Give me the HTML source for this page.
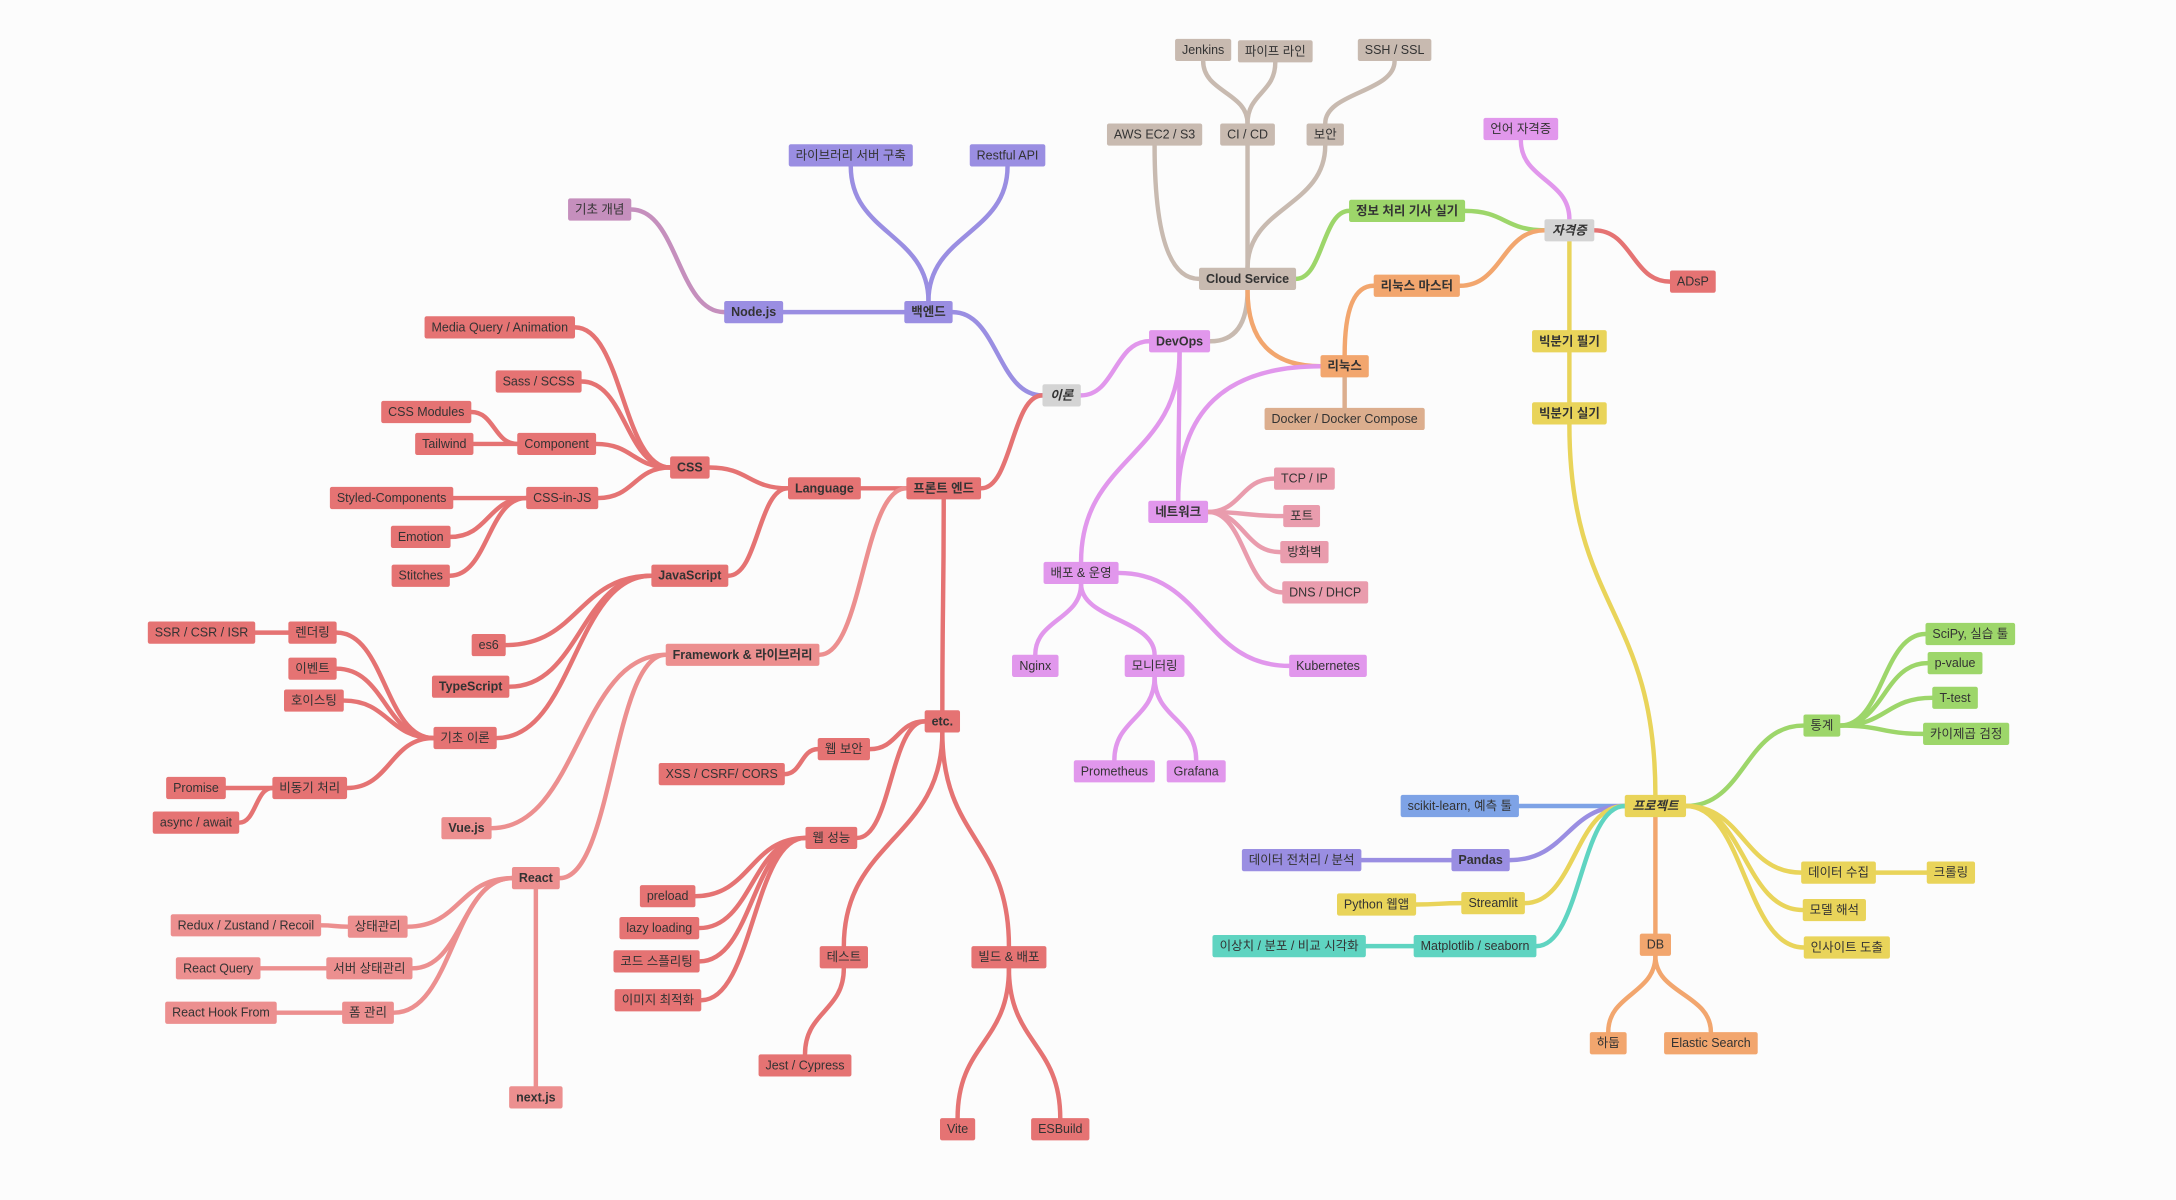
<!DOCTYPE html>
<html><head><meta charset="utf-8">
<style>
html,body{margin:0;padding:0;background:#fcfcfc;}
svg{display:block;}
text{font-family:"Liberation Sans","Noto Sans CJK KR",sans-serif;font-size:9px;fill:#333;text-anchor:middle;dominant-baseline:central;}
text.b{font-weight:bold;}
text.i{font-style:italic;}
</style></head><body>
<svg id="s" width="2176" height="1200" viewBox="0 0 1568 865" xmlns="http://www.w3.org/2000/svg">
<g id="edges" fill="none" stroke-linecap="round"></g>
<g id="rects"></g>
<g id="labels">
<text id="ir" class="k b i" x="765" y="285">이론</text>
<text id="be" class="p b" x="669" y="225">백엔드</text>
<text id="nj" class="p b" x="543" y="225">Node.js</text>
<text id="lib" class="p" x="613" y="112">라이브러리 서버 구축</text>
<text id="api" class="p" x="726" y="112">Restful API</text>
<text id="gk" class="m" x="432" y="151">기초 개념</text>
<text id="fe" class="r b" x="680" y="352">프론트 엔드</text>
<text id="lang" class="r b" x="594" y="352">Language</text>
<text id="css" class="r b" x="497" y="337">CSS</text>
<text id="mq" class="r" x="360" y="236">Media Query / Animation</text>
<text id="sass" class="r" x="388" y="275">Sass / SCSS</text>
<text id="cssm" class="r" x="307" y="297">CSS Modules</text>
<text id="tw" class="r" x="320" y="320">Tailwind</text>
<text id="comp" class="r" x="401" y="320">Component</text>
<text id="cij" class="r" x="405" y="359">CSS-in-JS</text>
<text id="sc" class="r" x="282" y="359">Styled-Components</text>
<text id="em" class="r" x="303" y="387">Emotion</text>
<text id="st" class="r" x="303" y="415">Stitches</text>
<text id="js" class="r b" x="497" y="415">JavaScript</text>
<text id="es6" class="r" x="352" y="465">es6</text>
<text id="ts" class="r b" x="339" y="495">TypeScript</text>
<text id="gi" class="r" x="335" y="532">기초 이론</text>
<text id="rd" class="r" x="225" y="456">렌더링</text>
<text id="ssr" class="r" x="145" y="456">SSR / CSR / ISR</text>
<text id="ev" class="r" x="225" y="482">이벤트</text>
<text id="ho" class="r" x="226" y="505">호이스팅</text>
<text id="as" class="r" x="223" y="568">비동기 처리</text>
<text id="pr" class="r" x="141" y="568">Promise</text>
<text id="aw" class="r" x="141" y="593">async / await</text>
<text id="fw" class="f b" x="535" y="472">Framework &amp; 라이브러리</text>
<text id="vue" class="f b" x="336" y="597">Vue.js</text>
<text id="react" class="f b" x="386" y="633">React</text>
<text id="sm" class="f" x="272" y="668">상태관리</text>
<text id="rx" class="f" x="177" y="667">Redux / Zustand / Recoil</text>
<text id="ssm" class="f" x="266" y="698">서버 상태관리</text>
<text id="rq" class="f" x="157" y="698">React Query</text>
<text id="fm" class="f" x="265" y="730">폼 관리</text>
<text id="rhf" class="f" x="159" y="730">React Hook From</text>
<text id="next" class="f b" x="386" y="791">next.js</text>
<text id="etc" class="r b" x="679" y="520">etc.</text>
<text id="ws" class="r" x="608" y="540">웹 보안</text>
<text id="xss" class="r" x="520" y="558">XSS / CSRF/ CORS</text>
<text id="wp" class="r" x="599" y="604">웹 성능</text>
<text id="pre" class="r" x="481" y="646">preload</text>
<text id="lazy" class="r" x="475" y="669">lazy loading</text>
<text id="code" class="r" x="473" y="693">코드 스플리팅</text>
<text id="img" class="r" x="474" y="721">이미지 최적화</text>
<text id="test" class="r" x="608" y="690">테스트</text>
<text id="jest" class="r" x="580" y="768">Jest / Cypress</text>
<text id="build" class="r" x="727" y="690">빌드 &amp; 배포</text>
<text id="vite" class="r" x="690" y="814">Vite</text>
<text id="esb" class="r" x="764" y="814">ESBuild</text>
<text id="dev" class="v b" x="850" y="246">DevOps</text>
<text id="cs" class="t b" x="899" y="201">Cloud Service</text>
<text id="aws" class="t" x="832" y="97">AWS EC2 / S3</text>
<text id="cicd" class="t" x="899" y="97">CI / CD</text>
<text id="jen" class="t" x="867" y="36">Jenkins</text>
<text id="pipe" class="t" x="919" y="37">파이프 라인</text>
<text id="sec" class="t" x="955" y="97">보안</text>
<text id="ssh" class="t" x="1005" y="36">SSH / SSL</text>
<text id="info" class="g b" x="1014" y="152">정보 처리 기사 실기</text>
<text id="cert" class="k b i" x="1131" y="166">자격증</text>
<text id="lcert" class="v" x="1096" y="93">언어 자격증</text>
<text id="adsp" class="r" x="1220" y="203">ADsP</text>
<text id="lm" class="o b" x="1021" y="206">리눅스 마스터</text>
<text id="linux" class="o b" x="969" y="264">리눅스</text>
<text id="dock" class="d" x="969" y="302">Docker / Docker Compose</text>
<text id="bf1" class="y b" x="1131" y="246">빅분기 필기</text>
<text id="bf2" class="y b" x="1131" y="298">빅분기 실기</text>
<text id="net" class="v b" x="849" y="369">네트워크</text>
<text id="tcp" class="n" x="940" y="345">TCP / IP</text>
<text id="port" class="n" x="938" y="372">포트</text>
<text id="fwl" class="n" x="940" y="398">방화벽</text>
<text id="dns" class="n" x="955" y="427">DNS / DHCP</text>
<text id="dep" class="v" x="779" y="413">배포 &amp; 운영</text>
<text id="ngx" class="v" x="746" y="480">Nginx</text>
<text id="mon" class="v" x="832" y="480">모니터링</text>
<text id="k8s" class="v" x="957" y="480">Kubernetes</text>
<text id="prom" class="v" x="803" y="556">Prometheus</text>
<text id="graf" class="v" x="862" y="556">Grafana</text>
<text id="proj" class="y b i" x="1193" y="581">프로젝트</text>
<text id="stat" class="g" x="1313" y="523">통계</text>
<text id="scipy" class="g" x="1420" y="457">SciPy, 실습 툴</text>
<text id="pv" class="g" x="1409" y="478">p-value</text>
<text id="tt" class="g" x="1409" y="503">T-test</text>
<text id="chi" class="g" x="1417" y="529">카이제곱 검정</text>
<text id="sk" class="bl" x="1052" y="581">scikit-learn, 예측 툴</text>
<text id="pd" class="p b" x="1067" y="620">Pandas</text>
<text id="pdp" class="p" x="938" y="620">데이터 전처리 / 분석</text>
<text id="sl" class="y" x="1076" y="651">Streamlit</text>
<text id="py" class="y" x="992" y="652">Python 웹앱</text>
<text id="mpl" class="te" x="1063" y="682">Matplotlib / seaborn</text>
<text id="out" class="te" x="929" y="682">이상치 / 분포 / 비교 시각화</text>
<text id="dc" class="y" x="1325" y="629">데이터 수집</text>
<text id="crawl" class="y" x="1406" y="629">크롤링</text>
<text id="mi" class="y" x="1322" y="656">모델 해석</text>
<text id="ins" class="y" x="1331" y="683">인사이트 도출</text>
<text id="db" class="o" x="1193" y="681">DB</text>
<text id="hd" class="o" x="1159" y="752">하둡</text>
<text id="es" class="o" x="1233" y="752">Elastic Search</text>
</g>
</svg>
<script>
(function(){
var C={k:"#d4d4d4",p:"#9a8ee2",m:"#c58fbd",r:"#e57373",f:"#ec8f8f",t:"#c8bab0",g:"#9dd66a",o:"#f2a66e",d:"#dcae8e",y:"#e9d45a",v:"#e197ec",n:"#e99cad",bl:"#7ea3e6",te:"#5fd4c1"};
var NS="http://www.w3.org/2000/svg";
var N={};
var rects=document.getElementById("rects");
document.querySelectorAll("#labels text").forEach(function(t){
 var cx=+t.getAttribute("x"),cy=+t.getAttribute("y");
 var w=t.getBBox().width+10,h=16;
 var col=C[t.getAttribute("class").split(" ")[0]];
 var r=document.createElementNS(NS,"rect");
 r.setAttribute("x",cx-w/2);r.setAttribute("y",cy-h/2);r.setAttribute("width",w);r.setAttribute("height",h);
 r.setAttribute("rx",1.5);r.setAttribute("fill",col);
 rects.appendChild(r);
 N[t.id]={cx:cx,cy:cy,w:w,h:h,col:col};
});
var E=[
["ir","be","h"],["be","nj","h"],["be","lib","v"],["be","api","v"],["nj","gk","h"],["ir","fe","h"],
["fe","lang","h"],["lang","css","h"],["css","mq","h"],["css","sass","h"],["css","comp","h"],["comp","cssm","h"],["comp","tw","h"],
["css","cij","h"],["cij","sc","h"],["cij","em","h"],["cij","st","h"],["lang","js","h"],["js","es6","h"],["js","ts","h"],["js","gi","h"],
["gi","rd","h"],["rd","ssr","h"],["gi","ev","h"],["gi","ho","h"],["gi","as","h"],["as","pr","h"],["as","aw","h"],
["fe","fw","h"],["fw","vue","h"],["fw","react","h"],["react","sm","h"],["sm","rx","h"],["react","ssm","h"],["ssm","rq","h"],
["react","fm","h"],["fm","rhf","h"],["react","next","v"],["fe","etc","v"],["etc","ws","h"],["ws","xss","h"],["etc","wp","h"],
["wp","pre","h"],["wp","lazy","h"],["wp","code","h"],["wp","img","h"],["etc","test","v"],["test","jest","v"],["etc","build","v"],
["build","vite","v"],["build","esb","v"],
["ir","dev","h"],["dev","cs","q"],["cs","aws","q"],["cs","cicd","v"],["cicd","jen","v"],["cicd","pipe","v"],["cs","sec","v"],["sec","ssh","v"],
["cs","info","h"],["cert","info","h"],["cert","lm","h"],["linux","lm","r"],["cs","linux","r"],["linux","net","q"],["linux","dock","v"],
["cert","lcert","v"],["cert","adsp","h"],["cert","bf1","v"],["bf1","bf2","v"],["bf2","proj","v"],
["dev","net","v"],["dev","dep","v"],["net","tcp","h"],["net","port","h"],["net","fwl","h"],["net","dns","h"],
["dep","ngx","v"],["dep","mon","v"],["dep","k8s","h"],["mon","prom","v"],["mon","graf","v"],
["proj","stat","h"],["stat","scipy","h"],["stat","pv","h"],["stat","tt","h"],["stat","chi","h"],["proj","sk","h"],["proj","pd","h"],
["pd","pdp","h"],["proj","sl","h"],["sl","py","h"],["proj","mpl","h"],["mpl","out","h"],["proj","dc","h"],["dc","crawl","h"],
["proj","mi","h"],["proj","ins","h"],["proj","db","v"],["db","hd","v"],["db","es","v"]
];
var eg=document.getElementById("edges");
E.forEach(function(e){
 var a=N[e[0]],b=N[e[1]],m=e[2],d;
 var sx=b.cx>a.cx?1:-1, sy=b.cy>a.cy?1:-1;
 if(m=="h"){
  var x1=a.cx+sx*a.w/2,y1=a.cy,x2=b.cx-sx*b.w/2,y2=b.cy,xm=(x1+x2)/2;
  d="M"+x1+","+y1+" C"+xm+","+y1+" "+xm+","+y2+" "+x2+","+y2;
 }else if(m=="v"){
  var x1=a.cx,y1=a.cy+sy*a.h/2,x2=b.cx,y2=b.cy-sy*b.h/2,ym=(y1+y2)/2;
  d="M"+x1+","+y1+" C"+x1+","+ym+" "+x2+","+ym+" "+x2+","+y2;
 }else if(m=="q"){
  var x1=a.cx+sx*a.w/2,y1=a.cy,x2=b.cx,y2=b.cy-sy*b.h/2;
  d="M"+x1+","+y1+" Q"+x2+","+y1+" "+x2+","+y2;
 }else{
  var x1=a.cx,y1=a.cy+sy*a.h/2,x2=b.cx-sx*b.w/2,y2=b.cy;
  d="M"+x1+","+y1+" Q"+x1+","+y2+" "+x2+","+y2;
 }
 var p=document.createElementNS(NS,"path");
 p.setAttribute("d",d);p.setAttribute("stroke",b.col==C.k?a.col:b.col);p.setAttribute("stroke-width",3.2);
 eg.appendChild(p);
});
})();
</script>
</body></html>
